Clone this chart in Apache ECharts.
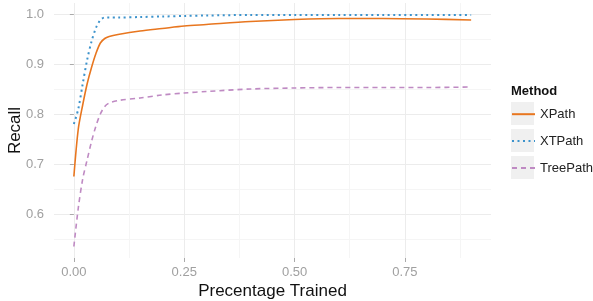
<!DOCTYPE html>
<html>
<head>
<meta charset="utf-8">
<script src="https://cdn.jsdelivr.net/npm/echarts@6/dist/echarts.min.js"></script>
<style>
  html, body { margin: 0; padding: 0; background: #fff; }
  #main { width: 593px; height: 301px; }
</style>
</head>
<body>
<div id="main"></div>
<script>
// 训练比例 (x) 和三个方法的召回率
const trainPct = [0, 0.01, 0.02, 0.03, 0.04, 0.05, 0.06, 0.07, 0.08, 0.1, 0.15, 0.2, 0.25, 0.3, 0.4, 0.5, 0.6, 0.7, 0.8, 0.9];
const xpath    = [0.675, 0.77, 0.818, 0.86, 0.893, 0.921, 0.942, 0.951, 0.955, 0.959, 0.966, 0.971, 0.976, 0.979, 0.985, 0.989, 0.991, 0.991, 0.99, 0.988];
const xtpath   = [0.78, 0.81, 0.86, 0.908, 0.945, 0.972, 0.988, 0.993, 0.993, 0.993, 0.994, 0.995, 0.996, 0.997, 0.998, 0.998, 0.998, 0.998, 0.998, 0.998];
const treepath = [0.535, 0.612, 0.67, 0.708, 0.745, 0.776, 0.8, 0.815, 0.822, 0.827, 0.832, 0.838, 0.842, 0.845, 0.85, 0.852, 0.853, 0.853, 0.853, 0.854];

const xTicks = [0, 0.25, 0.5, 0.75];
const xMinor = [0.125, 0.375, 0.625, 0.875];
const yTicks = [0.6, 0.7, 0.8, 0.9, 1.0];
const yMinor = [0.55, 0.65, 0.75, 0.85, 0.95];

const xRange = [-0.045, 0.945];
const yRange = [0.512, 1.022];

const chart = echarts.init(document.getElementById('main'));

const pairs = (ys) => trainPct.map((x, i) => [x, ys[i]]);
const font = 'Liberation Sans, Arial, sans-serif';

const option = {
    animation: false,
    textStyle: { fontFamily: font },
    grid: { left: 54, right: 102, top: 3, bottom: 43, containLabel: false, outerBoundsMode: 'none' },
    xAxis: [
        {
            type: 'value', min: xRange[0], max: xRange[1],
            name: 'Precentage Trained', nameLocation: 'middle', nameGap: 25, nameMoveOverlap: false,
            nameTextStyle: { fontSize: 17, color: '#111' },
            axisLine: { show: false },
            axisTick: { show: true, length: 4, lineStyle: { color: '#aaa' }, customValues: xTicks },
            axisLabel: { customValues: xTicks, color: '#a0a0a0', fontSize: 13, margin: 8,
                         formatter: (v) => v.toFixed(2) },
            splitLine: { show: true, lineStyle: { color: '#ececec', width: 1 } }
        },
        {
            type: 'value', min: xRange[0], max: xRange[1],
            axisLine: { show: false },
            axisTick: { show: false, customValues: xMinor },
            axisLabel: { show: false, customValues: xMinor },
            splitLine: { show: true, lineStyle: { color: '#f5f5f5', width: 1 } }
        }
    ],
    yAxis: [
        {
            type: 'value', min: yRange[0], max: yRange[1],
            name: 'Recall', nameLocation: 'middle', nameGap: 30, nameMoveOverlap: false,
            nameTextStyle: { fontSize: 17, color: '#111' },
            axisLine: { show: false },
            axisTick: { show: true, length: 4, lineStyle: { color: '#aaa' }, customValues: yTicks },
            axisLabel: { customValues: yTicks, color: '#a0a0a0', fontSize: 13, margin: 10,
                         formatter: (v) => v.toFixed(1) },
            splitLine: { show: true, lineStyle: { color: '#ececec', width: 1 } }
        },
        {
            type: 'value', min: yRange[0], max: yRange[1],
            axisLine: { show: false },
            axisTick: { show: false, customValues: yMinor },
            axisLabel: { show: false, customValues: yMinor },
            splitLine: { show: true, lineStyle: { color: '#f5f5f5', width: 1 } }
        }
    ],
    legend: {
        orient: 'vertical', left: 511, top: 105, padding: 0,
        itemWidth: 23, itemHeight: 23, itemGap: 8.5,
        itemStyle: { opacity: 0 },
        textStyle: { fontSize: 13, color: '#222' },
        data: ['XPath', 'XTPath', 'TreePath']
    },
    graphic: [
        { type: 'text', left: 511, top: 85, style: { text: 'Method', font: 'bold 13px ' + font, fill: '#111' } },
        { type: 'rect', left: 511, top: 102, shape: { width: 23, height: 23 }, style: { fill: '#f0f0f0' }, z: -1 },
        { type: 'rect', left: 511, top: 129, shape: { width: 23, height: 23 }, style: { fill: '#f0f0f0' }, z: -1 },
        { type: 'rect', left: 511, top: 156, shape: { width: 23, height: 23 }, style: { fill: '#f0f0f0' }, z: -1 }
    ],
    series: [
        {
            name: 'XPath', type: 'line', data: pairs(xpath), showSymbol: false, symbol: 'none',
            smooth: 0.3, lineStyle: { color: '#e8761f', width: 1.6, type: 'solid' },
            itemStyle: { color: '#e8761f' }
        },
        {
            name: 'XTPath', type: 'line', data: pairs(xtpath), showSymbol: false, symbol: 'none',
            smooth: 0.3, lineStyle: { color: '#3d93cc', width: 2, type: [2, 3.5] },
            itemStyle: { color: '#3d93cc' }
        },
        {
            name: 'TreePath', type: 'line', data: pairs(treepath), showSymbol: false, symbol: 'none',
            smooth: 0.3, lineStyle: { color: '#bf8ac3', width: 1.6, type: [5, 4] },
            itemStyle: { color: '#bf8ac3' }
        }
    ]
};

chart.setOption(option);
</script>
</body>
</html>
